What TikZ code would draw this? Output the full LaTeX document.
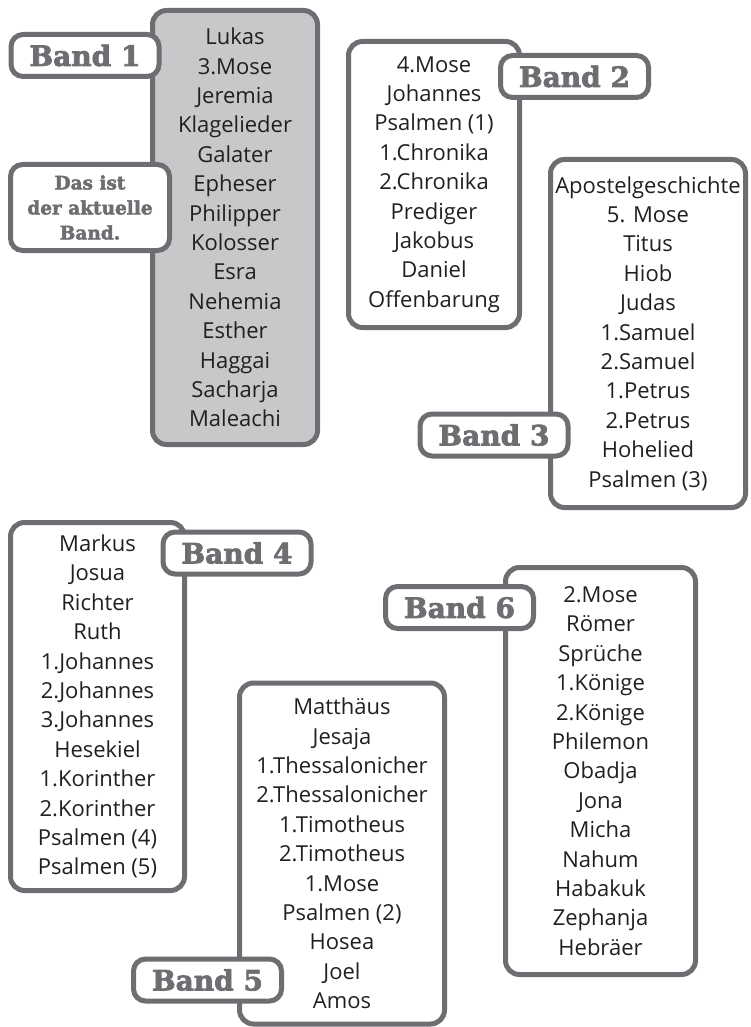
\documentclass[tikz,border=0pt]{standalone}
\usepackage{fontspec}
\setmainfont{Open Sans}
\newfontfamily\slabfont[FakeBold=2.5]{DejaVu Serif Bold}
\usepackage{xcolor}
\usepackage{tikz}
\usetikzlibrary{positioning}

\definecolor{linegray}{HTML}{6D6E71}
\definecolor{fillgray}{HTML}{C7C8CA}
\definecolor{textblack}{HTML}{231F20}

\begin{document}
\begin{tikzpicture}[
    x=1pt, y=-1pt,
    listbox/.style={rectangle, draw=linegray, line width=5pt, rounded corners=14pt, align=center, inner sep=0pt, text=textblack, font=\fontsize{22}{29.4}\selectfont},
    bandlabel/.style={rectangle, draw=linegray, fill=white, line width=5pt, rounded corners=12pt, minimum width=148pt, minimum height=42pt, inner sep=0pt, text=linegray, font=\slabfont\fontsize{28}{30}\selectfont},
    notebox/.style={rectangle, draw=linegray, fill=white, line width=5pt, rounded corners=12pt, align=center, inner sep=0pt, text=linegray, font=\slabfont\fontsize{18.5}{25}\selectfont}
]
\useasboundingbox (0,0) rectangle (750,1027);

% Band 1 (current)
\node[listbox, fill=fillgray, minimum width=165pt, minimum height=434pt] (band1) at (235,227.5)
  {Lukas\\3.Mose\\Jeremia\\Klagelieder\\Galater\\Epheser\\Philipper\\Kolosser\\Esra\\Nehemia\\Esther\\Haggai\\Sacharja\\Maleachi};

% Band 2
\node[listbox, minimum width=171pt, minimum height=286pt] (band2) at (434,184.5)
  {4.Mose\\Johannes\\Psalmen (1)\\1.Chronika\\2.Chronika\\Prediger\\Jakobus\\Daniel\\Offenbarung};

% Band 3
\node[listbox, minimum width=195pt, minimum height=348pt] (band3) at (648,333.5)
  {Apostelgeschichte\\5. Mose\\Titus\\Hiob\\Judas\\1.Samuel\\2.Samuel\\1.Petrus\\2.Petrus\\Hohelied\\Psalmen (3)};

% Band 4
\node[listbox, minimum width=174pt, minimum height=368pt] (band4) at (97.5,706.5)
  {Markus\\Josua\\Richter\\Ruth\\1.Johannes\\2.Johannes\\3.Johannes\\Hesekiel\\1.Korinther\\2.Korinther\\Psalmen (4)\\Psalmen (5)};

% Band 5
\node[listbox, minimum width=205pt, minimum height=341pt] (band5) at (342,853.5)
  {Matthäus\\Jesaja\\1.Thessalonicher\\2.Thessalonicher\\1.Timotheus\\2.Timotheus\\1.Mose\\Psalmen (2)\\Hosea\\Joel\\Amos};

% Band 6
\node[listbox, minimum width=190pt, minimum height=407pt] (band6) at (600.5,771)
  {2.Mose\\Römer\\Sprüche\\1.Könige\\2.Könige\\Philemon\\Obadja\\Jona\\Micha\\Nahum\\Habakuk\\Zephanja\\Hebräer};

% Labels
\node[bandlabel] (label1) at (85,55.5) {Band 1};
\node[bandlabel] (label2) at (574.5,76.5) {Band 2};
\node[bandlabel] (label3) at (494,435) {Band 3};
\node[bandlabel] (label4) at (237,553) {Band 4};
\node[bandlabel] (label5) at (207.5,980) {Band 5};
\node[bandlabel] (label6) at (459.5,607.5) {Band 6};

% Note
\node[notebox, minimum width=159pt, minimum height=86pt] (current) at (90,207.5) {Das ist\\der aktuelle\\Band.};

\end{tikzpicture}
\end{document}
